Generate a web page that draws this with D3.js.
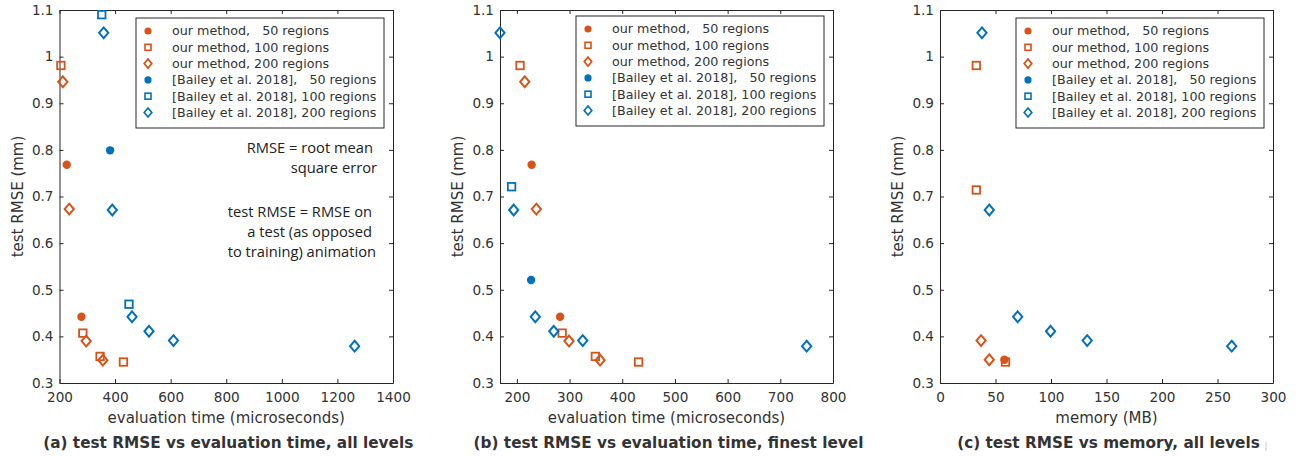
<!DOCTYPE html>
<html>
<head>
<meta charset="utf-8">
<script src="https://cdn.jsdelivr.net/npm/d3@7"></script>
<style>
  body { margin: 0; background: #fff; }
  svg text { font-family: "DejaVu Sans", sans-serif; fill: #333; }
  .note text { font-family: "Open Sans", sans-serif; fill: #222; }
</style>
</head>
<body>
<svg width="1297" height="457"></svg>
<script>
'use strict'

// series labels (legend order)
var seriesLabels = [
  'our method,   50 regions',
  'our method, 100 regions',
  'our method, 200 regions',
  '[Bailey et al. 2018],   50 regions',
  '[Bailey et al. 2018], 100 regions',
  '[Bailey et al. 2018], 200 regions'
]

// (a) evaluation time, all levels  [microseconds, test RMSE]
var aOurs50 = [[226, 0.768], [279, 0.442]]
var aOurs100 = [[205, 0.981], [284, 0.407], [346, 0.357], [430, 0.345]]
var aOurs200 = [[212, 0.946], [235, 0.673], [296, 0.390], [356, 0.349]]
var aBailey50 = [[382, 0.799]]
var aBailey100 = [[352, 1.090], [450, 0.469]]
var aBailey200 = [[359, 1.051], [390, 0.671], [461, 0.442], [522, 0.411], [610, 0.391], [1262, 0.379]]

// (b) evaluation time, finest level
var bOurs50 = [[228, 0.768], [282, 0.442]]
var bOurs100 = [[206, 0.981], [286, 0.407], [349, 0.357], [431, 0.345]]
var bOurs200 = [[215, 0.946], [237, 0.673], [299, 0.390], [358, 0.349]]
var bBailey50 = [[227, 0.521]]
var bBailey100 = [[190, 0.721]]
var bBailey200 = [[168, 1.051], [194, 0.671], [235, 0.442], [270, 0.411], [325, 0.391], [750, 0.379]]

// (c) memory, all levels  [MB, test RMSE]
var cOurs50 = [[58, 0.350]]
var cOurs100 = [[32.7, 0.981], [32.7, 0.714], [59, 0.345]]
var cOurs200 = [[37, 0.391], [44.4, 0.350]]
var cBailey50 = []
var cBailey100 = []
var cBailey200 = [[37.8, 1.051], [44.4, 0.671], [70, 0.442], [99.6, 0.411], [132.6, 0.391], [262.8, 0.379]]

var yTicks = [0.3, 0.4, 0.5, 0.6, 0.7, 0.8, 0.9, 1, 1.1]
var aTicks = [200, 400, 600, 800, 1000, 1200, 1400]
var bTicks = [200, 300, 400, 500, 600, 700, 800]
var cTicks = [0, 50, 100, 150, 200, 250, 300]

var orange = '#D95319'
var blue = '#0072BD'
var colours = [orange, orange, orange, blue, blue, blue]
var shapes = ['circle', 'square', 'diamond', 'circle', 'square', 'diamond']

var svg = d3.select('svg')

var plotTop = 10, plotBottom = 383

var panels = [
  { left: 59.5, right: 393, xDomain: [200, 1400], xTicks: aTicks,
    xLabel: 'evaluation time (microseconds)',
    title: '(a) test RMSE vs evaluation time, all levels',
    series: [aOurs50, aOurs100, aOurs200, aBailey50, aBailey100, aBailey200], legendTop: 18 },
  { left: 500, right: 833, xDomain: [168, 800], xTicks: bTicks,
    xLabel: 'evaluation time (microseconds)',
    title: '(b) test RMSE vs evaluation time, finest level',
    series: [bOurs50, bOurs100, bOurs200, bBailey50, bBailey100, bBailey200], legendTop: 16 },
  { left: 940, right: 1273, xDomain: [0, 300], xTicks: cTicks,
    xLabel: 'memory (MB)',
    title: '(c) test RMSE vs memory, all levels',
    series: [cOurs50, cOurs100, cOurs200, cBailey50, cBailey100, cBailey200], legendTop: 18 }
]

var diamond = function(w, h) {
  return {
    draw: function(ctx) {
      ctx.moveTo(0, -h); ctx.lineTo(w, 0); ctx.lineTo(0, h); ctx.lineTo(-w, 0); ctx.closePath()
    }
  }
}

var drawMarker = function(g, shape, colour, big) {
  if (shape == 'circle') {
    g.append('circle').attr('r', big ? 4.2 : 3.6).attr('fill', colour)
  }
  else if (shape == 'square') {
    var s = big ? 7.5 : 6
    g.append('rect').attr('x', -s / 2).attr('y', -s / 2).attr('width', s).attr('height', s)
      .attr('fill', 'none').attr('stroke', colour).attr('stroke-width', big ? 1.8 : 1.6)
  }
  else {
    g.append('path').attr('d', d3.symbol().type(big ? diamond(4.6, 5.4) : diamond(3.8, 4.5))())
      .attr('fill', 'none').attr('stroke', colour).attr('stroke-width', big ? 2 : 1.7)
  }
}

var y = d3.scaleLinear().domain([0.3, 1.1]).range([plotBottom, plotTop])

panels.forEach(function(p) {
  var x = d3.scaleLinear().domain(p.xDomain).range([p.left, p.right])
  var g = svg.append('g')

  g.append('g').attr('transform', 'translate(0,' + plotBottom + ')')
    .call(d3.axisBottom(x).tickValues(p.xTicks).tickSizeInner(-4).tickSizeOuter(0).tickPadding(9)
      .tickFormat(d3.format('d')))
  g.append('g').attr('transform', 'translate(0,' + plotTop + ')')
    .call(d3.axisTop(x).tickValues(p.xTicks).tickSizeInner(-4).tickSizeOuter(0).tickFormat(''))
  g.append('g').attr('transform', 'translate(' + p.left + ',0)')
    .call(d3.axisLeft(y).tickValues(yTicks).tickSizeInner(-4).tickSizeOuter(0).tickPadding(6)
      .tickFormat(d3.format('.1~f')))
  g.append('g').attr('transform', 'translate(' + p.right + ',0)')
    .call(d3.axisRight(y).tickValues(yTicks).tickSizeInner(-4).tickSizeOuter(0).tickFormat(''))

  g.selectAll('.domain, .tick line').attr('stroke', '#262626')
  g.selectAll('.tick text').attr('font-size', 13.6).attr('fill', '#333')

  // data points
  p.series.forEach(function(pts, i) {
    g.append('g').selectAll('g')
      .data(pts)
      .enter().append('g')
      .attr('transform', function(d) { return 'translate(' + x(d[0]) + ',' + y(d[1]) + ')' })
      .each(function() { drawMarker(d3.select(this), shapes[i], colours[i], true) })
  })

  // legend
  var lg = g.append('g').attr('transform', 'translate(' + (p.right - 257) + ',' + p.legendTop + ')')
  lg.append('rect').attr('width', 248).attr('height', 110)
    .attr('fill', '#fff').attr('stroke', '#262626').attr('stroke-width', 1)
  seriesLabels.forEach(function(label, i) {
    var row = lg.append('g').attr('transform', 'translate(0,' + (13 + i * 16.3) + ')')
    drawMarker(row.append('g').attr('transform', 'translate(12,0)'), shapes[i], colours[i], false)
    row.append('text').attr('x', 36).attr('dy', '0.35em')
      .attr('font-size', 12.7).style('white-space', 'pre').text(label)
  })

  // axis labels and caption
  g.append('text')
    .attr('transform', 'translate(' + (p.left - 42) + ',' + ((plotTop + plotBottom) / 2) + ') rotate(-90)')
    .attr('text-anchor', 'middle').attr('dy', '0.35em').attr('font-size', 15)
    .text('test RMSE (mm)')
  g.append('text')
    .attr('x', (p.left + p.right) / 2).attr('y', 418).attr('dy', '0.35em')
    .attr('text-anchor', 'middle').attr('font-size', 15)
    .text(p.xLabel)
  g.append('text')
    .attr('x', (p.left + p.right) / 2 + 2).attr('y', 443).attr('dy', '0.35em')
    .attr('text-anchor', 'middle').attr('font-size', 15.3).attr('font-weight', 'bold')
    .attr('fill', '#222')
    .text(p.title)
})

// annotation in panel (a)
var note = svg.append('g').attr('class', 'note')
var noteLines = [
  ['RMSE = root mean', 148, 373],
  ['square error', 168, 377],
  ['test RMSE = RMSE on', 212, 372],
  ['a test (as opposed', 232, 372],
  ['to training) animation', 252, 376]
]
noteLines.forEach(function(l) {
  note.append('text').attr('x', l[2]).attr('y', l[1]).attr('dy', '0.35em')
    .attr('text-anchor', 'end').attr('font-size', 14.7).text(l[0])
})

// small stray mark at the bottom right
svg.append('line').attr('x1', 1266).attr('x2', 1266).attr('y1', 442).attr('y2', 451)
  .attr('stroke', '#ccc').attr('stroke-width', 1)
</script>
</body>
</html>
